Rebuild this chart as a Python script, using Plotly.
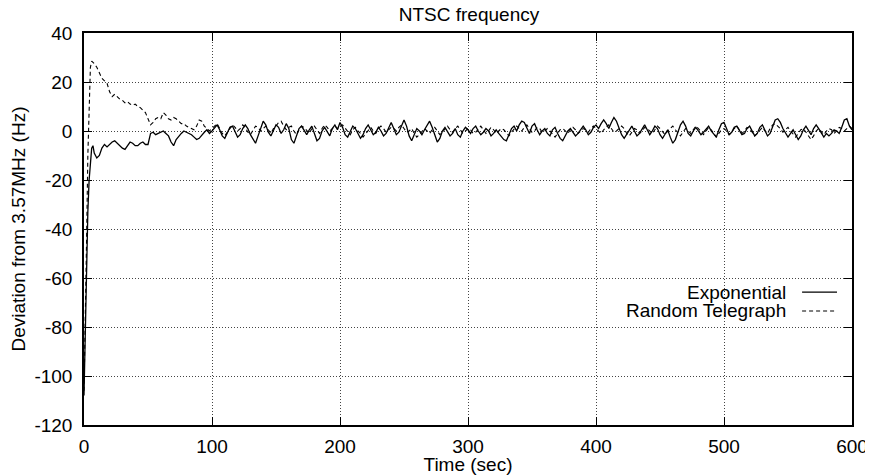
import plotly.graph_objects as go

# ---------------- data ----------------
time_sec = [0, 1, 2, 3, 4, 5, 6, 7] + list(range(8, 601, 2))

exponential = [
    -108, -78, -52, -33, -20, -12, -7, -6,
    # 8 .. 100
    -9, -11, -10, -7, -5.5, -6.5, -5.5, -4.5, -4, -5,
    -6, -7, -7.5, -6, -4.5, -5, -6, -6, -5, -4.5,
    -5.5, -5.5, -1, -0.5, -1.5, -1, -0.5, 0, -1, -2,
    -4.5, -6, -3.5, -2, -1, 0, -0.5, -1, -1.5, -2.5,
    -3.5, -3, -1.5, -0.5, 0.5, -1, 0,
    # 102 .. 600
    1.5, 2.5, 0.5, -2, -3, -1, 1.5, 2, 0, -2.5,
    -1.5, 1, 2.5, 1, -1.5, -3.5, -5, -2, 1.5, 4,
    2.5, -0.5, -2, 0, 2.5, 1.5, -1, 0.5, 3, 1,
    -3.5, -5, -2, 1, 2, 0, -1.5, 0.5, 2, -1,
    -4, -3, 0, 1.5, -0.5, -2, 1, 2.5, 0.5, 3.5,
    1.5, -1.5, -2.5, 0, 2, 1, -1, -3, -1.5, 1,
    2.5, 0.5, -1.5, -0.5, 1.5, 0, -2, -1, 1.5, 3.5,
    1, -1.5, -0.5, 2, 4.5, 2, -2, -4, -1.5, 1,
    0, -1.5, 0.5, 2.5, 4, 1.5, -2, -4.5, -3, 0,
    1.5, -0.5, -2, -1, 1, -1.5, -2.5, 0, 1.5, 0.5,
    -1, 1, 2, 0, -1.5, -0.5, 1, 0, -2, -1,
    0.5, -1, -2.5, -3.5, -4, -1.5, 1, 2, 0, 2.5,
    4, 3.5, 1, -1, 2, 3, 0.5, -1.5, 0, 1,
    -1, -2, 0.5, 1.5, -1, -3, -4, -2, 0, 1,
    -0.5, -2, -1, 0.5, 2, 0.5, -1.5, -0.5, 1.5, 2.5,
    1, 3, 4.5, 3, 1, 3.5, 5.5, 4, 1, -1.5,
    -3, -1.5, 0.5, 2, 0, -2, -1, 1, 2.5, 0.5,
    -1.5, 0, 2, 1, -1.5, -3, -1, 0.5, -2.5, -5,
    -3.5, 0, 2.5, 4, 2, -1, -2, 0, 1.5, 0,
    -1.5, -0.5, 1, 2, 0, -1.5, -2.5, 0.5, 3, 3.5,
    1, -1.5, -0.5, 1.5, 2, 0, -1.5, -1, 1, 2,
    0, -2, -1, 1.5, 2.5, 0.5, -2, -1, 2, 4.5,
    5, 3.5, 1, -1, -2.5, -1, 0.5, -1.5, -3.5, -2,
    0.5, 2, 0, -1.5, 1, 2.5, 1, -1, -2.5, -1,
    -2, -1, 0.5, 0, -1, 1.5, 4.5, 5, 2, 0.5,
]

random_telegraph = [
    -106, -80, -45, -10, 15, 26, 28.5, 28,
    # 8 .. 100
    27.5, 26, 24, 21.5, 20.5, 19.5, 16, 14, 15, 14,
    13, 12.5, 11.5, 12, 11, 10.5, 11, 10, 9.5, 8.5,
    7.5, 5, 2.5, 3.5, 5, 5.5, 5, 7.5, 6.5, 5,
    4.5, 5.5, 5, 4, 3, 3, 2, 1.5, 1, 0.5,
    2, 4.5, 4, 2, 1, 0, 1,
    # 102 .. 600
    2, 3, 1, -1, -2, -0.5, 1, 2.5, 1.5, 0,
    1, 2.5, 1.5, -0.5, -1.5, 0, 2, 1.5, 0, 1,
    2, 0.5, -1, 1, 2, 3.5, 4, 2, 0.5, 1.5,
    2, 0, -1.5, 0.5, 2, 1.5, 0, -1, 1, 2,
    0.5, -1, 1, 2.5, 1.5, 0, 1, 2, 1, 2,
    2.5, 1, -0.5, -1.5, 0.5, 1.5, 0, -1, -2.5, -1,
    0.5, 1.5, 0, -1, 1, 2, 1, -0.5, 0.5, 1.5,
    1, 0, 1.5, 2.5, 1, -0.5, 0, 1, -1, -2.5,
    -1.5, 0, 1, 0, -1, 0.5, 1.5, 0, -1.5, -0.5,
    1, 2, 0.5, -0.5, 1, 2, 0.5, -1, 0, 1,
    0.5, -1, -0.5, 1, 2, 0.5, -1, 0, 1.5, 0.5,
    -1, 0, 1, 0.5, -1, -2, -0.5, 1, 2, 1,
    0, 1.5, 2.5, 1, -0.5, 0, 1.5, 1, -0.5, 0,
    1, 0, -1.5, -2.5, -1, 0.5, 1, 0, -1, 0.5,
    1.5, 0.5, -1, 0, 1, 0.5, -0.5, 1, 2, 1,
    0, -1, 0.5, 1.5, 2.5, 1, -0.5, 0, 1, 2,
    1, -1, -2, -0.5, 1, 0.5, -1, 0, 1.5, 1,
    0, -1, 0.5, 2, 1, -0.5, -1.5, 0, 1, 2,
    0.5, -1, -2, -0.5, 1, 0, -1, 0.5, 2, 1,
    -0.5, -1.5, 0, 1.5, 0.5, -1, -2.5, -1, 0.5, 1,
    0, -1.5, -0.5, 1, 2, 0.5, -1, 0, 1.5, 1,
    -0.5, -2, -1, 0.5, 1.5, 0, -1, 1, 2.5, 3,
    2, 1, -0.5, 0.5, 1.5, 0, -1.5, -2.5, -1, 0.5,
    1, -0.5, -2, -3.5, -2, 0, 1, -0.5, -1.5, 0,
    1, 0.5, -1, 0, 1.5, 1, 0, 1, 2, 1,
]

series_names = ["Exponential", "Random Telegraph"]
x_ticks = [0, 100, 200, 300, 400, 500, 600]
y_ticks = [40, 20, 0, -20, -40, -60, -80, -100, -120]

# ---------------- figure ----------------
FONT = "Liberation Sans, Arial, Helvetica, sans-serif"
FS = 19
W, H = 865, 467  # page body has an 8px margin

fig = go.Figure()
fig.add_trace(go.Scatter(x=time_sec, y=exponential, mode="lines",
                         name=series_names[0],
                         line=dict(color="black", width=1.3)))
fig.add_trace(go.Scatter(x=time_sec, y=random_telegraph, mode="lines",
                         name=series_names[1],
                         line=dict(color="black", width=1.1, dash="4px,3px")))

axis_common = dict(
    showline=True, linecolor="black", linewidth=1.5, mirror="ticks",
    ticks="inside", ticklen=8, tickwidth=1.3, tickcolor="black",
    showgrid=True, gridcolor="#444444", gridwidth=1, griddash="1px,2px",
    zeroline=False, tickfont=dict(family=FONT, size=FS, color="black"),
)

fig.update_xaxes(range=[0, 600], tickvals=x_ticks, ticktext=[str(v) for v in x_ticks],
                 title=dict(text="Time (sec)", font=dict(family=FONT, size=FS, color="black"),
                            standoff=0),
                 ticklabelstandoff=3, **axis_common)
fig.update_yaxes(range=[-120, 40], tickvals=y_ticks, ticktext=[str(v) for v in y_ticks],
                 title=dict(text="Deviation from 3.57MHz (Hz)",
                            font=dict(family=FONT, size=FS, color="black"), standoff=6),
                 ticklabelstandoff=6, **axis_common)

# gnuplot-style legend: text right-aligned, sample line to the right
legend_rows = [(series_names[0], 0.339, dict(color="black", width=1.3)),
               (series_names[1], 0.291, dict(color="black", width=1.1, dash="4px,3px"))]
for name, yy, ln in legend_rows:
    fig.add_annotation(text=name, xref="paper", yref="paper", x=0.9167, y=yy,
                       xanchor="right", yanchor="middle", showarrow=False,
                       font=dict(family=FONT, size=FS, color="black"))
    fig.add_shape(type="line", xref="paper", yref="paper", x0=0.935, x1=0.9805,
                  y0=yy, y1=yy, line=ln)

fig.update_layout(
    width=W, height=H,
    margin=dict(l=76, r=21, t=25, b=50, autoexpand=False),
    paper_bgcolor="white", plot_bgcolor="white",
    showlegend=False,
    title=dict(text="NTSC frequency", x=461 / W, xanchor="center",
               y=1 - 6 / H, yanchor="middle", yref="container",
               font=dict(family=FONT, size=FS, color="black")),
    font=dict(family=FONT, size=FS, color="black"),
)

fig.write_html("out.html")
